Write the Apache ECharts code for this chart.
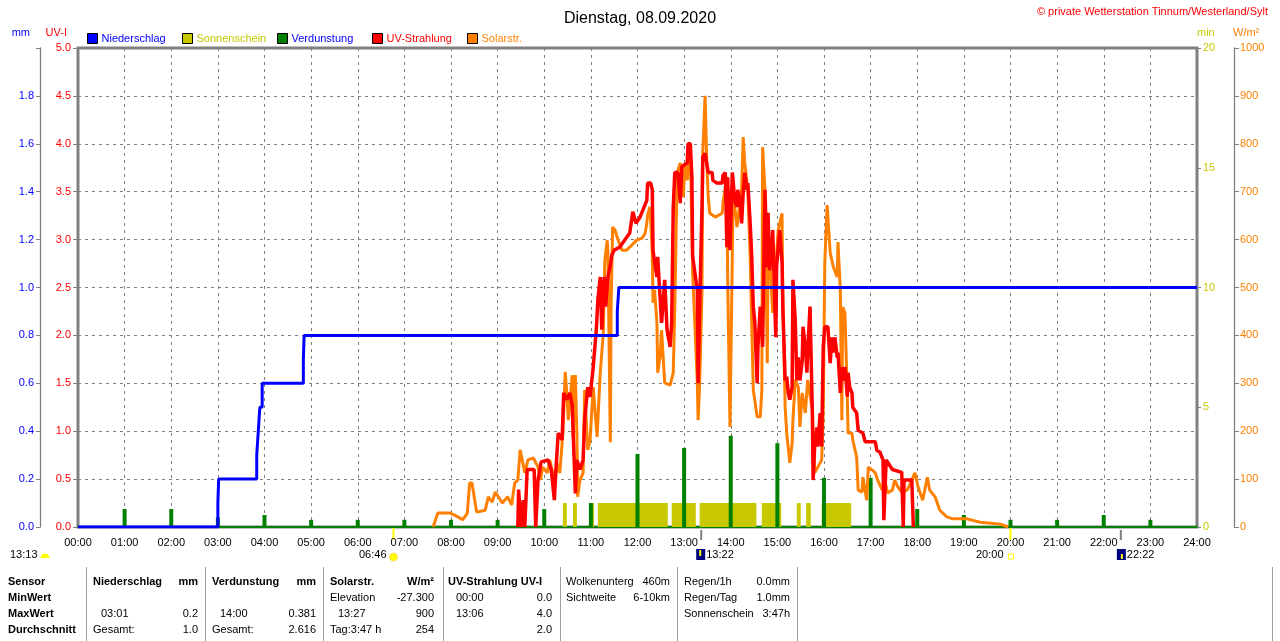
<!DOCTYPE html>
<html>
<head>
<meta charset="utf-8">
<script src="https://cdn.jsdelivr.net/npm/echarts@6/dist/echarts.min.js"></script>
<style>
  html, body { margin: 0; padding: 0; background: #fff; }
  #chart-container { width: 1280px; height: 641px; }
</style>
</head>
<body>
<div id="chart-container"></div>
<script>
const FONT = '"Liberation Sans", Arial, sans-serif'
const BLUE = "#0000ff"
const RED = "#ff0000"
const ORANGE = "#ff8000"
const GREEN = "#008000"
const SUN = "#c8c800"
const GRAY = "#808080"

// ---- data (times as HH:MM) ----
const rainTime = ["00:00", "03:00", "03:01", "03:50", "03:52", "03:54", "03:57", "04:50", "04:51", "11:34", "11:36", "24:00"]
const rainSum = [0, 0.1, 0.2, 0.3, 0.4, 0.5, 0.6, 0.7, 0.8, 0.9, 1.0, 1.0]

const evapTime = ["01:00", "02:00", "03:00", "04:00", "05:00", "06:00", "07:00", "08:00", "09:00", "10:00", "11:00", "12:00",
  "13:00", "14:00", "15:00", "16:00", "17:00", "18:00", "19:00", "20:00", "21:00", "22:00", "23:00"]
const evapVal = [0.075, 0.075, 0.04, 0.05, 0.03, 0.03, 0.03, 0.03, 0.03, 0.075, 0.10, 0.305,
  0.33, 0.381, 0.35, 0.205, 0.205, 0.075, 0.05, 0.03, 0.03, 0.05, 0.03]

const sunStart = ["10:24", "10:37", "10:59", "11:09", "12:44", "13:20", "14:40", "15:25", "15:37", "15:57"]
const sunEnd = ["10:29", "10:42", "11:04", "12:39", "13:15", "14:33", "15:05", "15:30", "15:43", "16:35"]
const sunMin = [1, 1, 1, 1, 1, 1, 1, 1, 1, 1]

const solarTime = [
  "07:37", "07:43", "07:59", "08:09", "08:15", "08:21", "08:24", "08:27", "08:33", "08:44",
  "08:48", "08:53", "08:57", "09:06", "09:13", "09:18", "09:22", "09:26", "09:29", "09:31",
  "09:35", "09:39", "09:46", "09:52", "09:55", "09:58", "10:04", "10:07", "10:14", "10:16",
  "10:20", "10:24", "10:27", "10:29", "10:31", "10:36", "10:37", "10:40", "10:42", "10:43",
  "10:46", "10:50", "10:52", "10:56", "10:59", "11:03", "11:08", "11:12", "11:16", "11:18",
  "11:21", "11:22", "11:25", "11:26", "11:28", "11:31", "11:35", "11:40", "11:46", "11:53",
  "11:59", "12:06", "12:10", "12:12", "12:13", "12:16", "12:19", "12:20", "12:22", "12:25",
  "12:26", "12:29", "12:31", "12:35", "12:42", "12:46", "12:48", "12:51", "12:55", "12:59",
  "13:01", "13:04", "13:08", "13:11", "13:17", "13:18", "13:20", "13:23", "13:24", "13:27",
  "13:29", "13:31", "13:33", "13:40", "13:49", "13:50", "13:55", "13:56", "13:59", "14:02",
  "14:03", "14:08", "14:14", "14:16", "14:18", "14:22", "14:25", "14:29", "14:34", "14:38",
  "14:40", "14:41", "14:44", "14:47", "14:48", "14:50", "14:54", "15:01", "15:06", "15:07",
  "15:10", "15:12", "15:16", "15:19", "15:20", "15:23", "15:27", "15:29", "15:32", "15:36",
  "15:39", "15:45", "15:48", "15:52", "15:57", "15:59", "16:01", "16:04", "16:06", "16:08",
  "16:12", "16:17", "16:18", "16:21", "16:23", "16:24", "16:27", "16:30", "16:31", "16:36",
  "16:37", "16:42", "16:44", "16:49", "16:50", "16:55", "16:57", "17:02", "17:06", "17:09",
  "17:15", "17:18", "17:22", "17:28", "17:31", "17:35", "17:40", "17:47", "17:53", "17:57",
  "18:01", "18:07", "18:13", "18:16", "18:23", "18:29", "18:38", "18:46", "19:04", "19:21",
  "19:47", "19:57"
]
const solarVal = [
  0, 29, 29, 21, 15, 29, 92, 92, 31, 35,
  63, 52, 73, 50, 63, 46, 92, 98, 161, 161,
  113, 140, 144, 125, 98, 125, 113, 140, 92, 134,
  113, 196, 324, 280, 223, 317, 188, 317, 196, 63,
  98, 113, 286, 161, 182, 292, 188, 321, 405, 557,
  599, 572, 177, 459, 626, 620, 599, 578, 578, 589,
  599, 603, 614, 635, 651, 668, 572, 468, 495, 426,
  322, 355, 411, 301, 296, 322, 459, 739, 760, 689,
  760, 724, 787, 530, 301, 223, 301, 495, 781, 900,
  772, 689, 655, 647, 655, 676, 731, 522, 209, 564,
  704, 626, 704, 814, 760, 704, 564, 286, 230, 230,
  286, 793, 704, 342, 585, 564, 447, 620, 655, 480,
  251, 196, 134, 175, 223, 307, 292, 209, 280, 238,
  307, 244, 113, 125, 140, 238, 551, 672, 668, 572,
  543, 522, 595, 495, 223, 459, 447, 271, 196, 196,
  182, 146, 77, 73, 104, 56, 125, 119, 113, 98,
  77, 98, 71, 77, 98, 84, 73, 77, 98, 113,
  84, 56, 104, 77, 63, 35, 21, 17, 17, 10,
  6, 0
]

const uvTime = [
  "09:26", "09:27", "09:30", "09:33", "09:35", "09:38", "09:47", "09:49", "09:52", "09:56",
  "10:05", "10:09", "10:13", "10:15", "10:18", "10:23", "10:25", "10:29", "10:33", "10:36",
  "10:40", "10:42", "10:46", "10:50", "10:52", "10:56", "10:59", "11:03", "11:07", "11:09",
  "11:12", "11:14", "11:17", "11:19", "11:22", "11:25", "11:27", "11:30", "11:37", "11:44",
  "11:50", "11:54", "11:58", "12:03", "12:07", "12:12", "12:13", "12:17", "12:19", "12:20",
  "12:22", "12:25", "12:26", "12:29", "12:31", "12:35", "12:38", "12:42", "12:44", "12:46",
  "12:48", "12:52", "12:55", "12:57", "13:04", "13:05", "13:08", "13:10", "13:11", "13:17",
  "13:18", "13:20", "13:23", "13:24", "13:27", "13:29", "13:31", "13:36", "13:37", "13:42",
  "13:49", "13:50", "13:53", "13:55", "13:56", "13:59", "14:02", "14:03", "14:05", "14:08",
  "14:09", "14:12", "14:14", "14:16", "14:18", "14:21", "14:22", "14:25", "14:27", "14:29",
  "14:31", "14:34", "14:35", "14:38", "14:40", "14:41", "14:44", "14:47", "14:48", "14:50",
  "14:53", "14:54", "14:57", "14:58", "14:59", "15:01", "15:03", "15:06", "15:07", "15:10",
  "15:12", "15:14", "15:16", "15:19", "15:20", "15:23", "15:25", "15:27", "15:29", "15:32",
  "15:33", "15:36", "15:38", "15:39", "15:42", "15:45", "15:46", "15:48", "15:51", "15:52",
  "15:55", "15:57", "15:59", "16:01", "16:05", "16:08", "16:10", "16:12", "16:14", "16:17",
  "16:18", "16:21", "16:23", "16:24", "16:27", "16:30", "16:31", "16:33", "16:36", "16:37",
  "16:42", "16:44", "16:50", "16:53", "17:06", "17:08", "17:12", "17:16", "17:17", "17:20",
  "17:28", "17:40", "17:42", "17:43", "17:53", "17:55"
]
const uvVal = [
  0, 0.39, 0, 0.28, 0, 0.60, 0.60, 0, 0.49, 0.68,
  0.70, 0.60, 0.28, 0.60, 0.98, 0.91, 1.40, 1.33, 1.40, 1.27,
  0.35, 0.70, 0.60, 0.70, 1.12, 1.46, 1.36, 1.67, 2.06, 2.37,
  2.61, 2.06, 2.61, 2.30, 2.61, 2.73, 2.84, 2.89, 2.92, 3.00,
  3.07, 3.29, 3.17, 3.23, 3.31, 3.41, 3.59, 3.59, 3.52, 2.89,
  2.76, 2.61, 2.82, 2.40, 2.13, 2.58, 2.06, 1.88, 2.13, 3.34,
  3.70, 3.70, 3.38, 3.76, 3.80, 4.00, 4.00, 3.65, 2.82, 2.47,
  1.50, 2.30, 3.34, 3.86, 3.90, 3.80, 3.70, 3.70, 3.62, 3.59,
  3.59, 3.67, 3.70, 2.92, 3.65, 2.89, 3.70, 3.62, 3.41, 3.34,
  3.52, 3.41, 3.17, 3.49, 3.70, 3.52, 3.59, 3.17, 2.82, 2.30,
  2.13, 1.50, 1.88, 2.30, 2.06, 1.88, 3.52, 2.71, 3.28, 2.68,
  2.92, 3.10, 2.23, 1.98, 2.71, 2.92, 3.10, 2.76, 2.30, 1.53,
  1.57, 1.40, 1.33, 1.46, 2.58, 2.16, 1.53, 1.77, 1.53, 1.74,
  2.09, 1.88, 1.61, 1.82, 2.30, 1.19, 0.49, 0.84, 1.04, 0.84,
  1.19, 0.84, 1.88, 2.09, 2.09, 1.71, 1.98, 1.82, 1.98, 1.77,
  1.82, 1.40, 1.67, 1.53, 1.67, 1.36, 1.61, 1.46, 1.40, 1.25,
  1.19, 1.01, 0.98, 0.89, 0.89, 0.80, 0.78, 0.70, 0.07, 0.70,
  0.60, 0.57, 0, 0.49, 0.49, 0
]

// astronomy row under the time axis
const dayLength = "13:13"
const sunrise = "06:46"
const transit = "13:22"
const sunset = "20:00"
const moonrise = "22:22"

// statistics table
const rowLabels = ["Sensor", "MinWert", "MaxWert", "Durchschnitt"]
const statCols = [
  { head: "Niederschlag", unit: "mm", rows: [["", ""], ["03:01", "0.2"], ["Gesamt:", "1.0"]] },
  { head: "Verdunstung", unit: "mm", rows: [["", ""], ["14:00", "0.381"], ["Gesamt:", "2.616"]] },
  { head: "Solarstr.", unit: "W/m²", rows: [["Elevation", "-27.300"], ["13:27", "900"], ["Tag:3:47 h", "254"]] },
  { head: "UV-Strahlung UV-I", unit: "", rows: [["00:00", "0.0"], ["13:06", "4.0"], ["", "2.0"]] }
]
const infoA = [["Wolkenunterg", "460m"], ["Sichtweite", "6-10km"]]
const infoB = [["Regen/1h", "0.0mm"], ["Regen/Tag", "1.0mm"], ["Sonnenschein", "3:47h"]]

// ---- helpers ----
const toMin = (t) => {
  const p = t.split(":")
  return +p[0] * 60 + +p[1]
}
const pad2 = (n) => String(n).padStart(2, "0")
const pairs = (times, vals) => times.map((t, i) => [toMin(t), vals[i]])

var dom = document.getElementById("chart-container")
var myChart = echarts.init(dom, null, { renderer: "canvas" })

const commonYAxis = {
  type: "value",
  nameLocation: "end",
  nameGap: 15,
  splitLine: { show: false },
  axisTick: { show: true, length: 4, lineStyle: { color: GRAY } },
  axisLine: { show: true, onZero: false, lineStyle: { color: GRAY, width: 1.3 } }
}

const legendItems = [
  ["Niederschlag", BLUE, 87],
  ["Sonnenschein", SUN, 182],
  ["Verdunstung", BLUE, 277],
  ["UV-Strahlung", RED, 372],
  ["Solarstr.", ORANGE, 467]
]

var option = {
  animation: false,
  textStyle: { fontFamily: FONT },
  title: {
    text: "Dienstag, 08.09.2020",
    left: "center",
    top: 6,
    textStyle: { fontSize: 16, fontWeight: "normal", color: "#000", fontFamily: FONT }
  },
  legend: legendItems.map(([name, color, left]) => ({
    left: left,
    top: 33,
    padding: 0,
    icon: "rect",
    itemWidth: 10,
    itemHeight: 10,
    itemStyle: { borderColor: "#000", borderWidth: 1 },
    textStyle: { color: color, fontSize: 11, fontFamily: FONT, padding: [0, 0, 0, -1] },
    data: [name]
  })),
  grid: {
    left: 78,
    right: 83,
    top: 48,
    bottom: 114,
    show: true,
    borderColor: GRAY,
    borderWidth: 3
  },
  xAxis: {
    type: "value",
    min: 0,
    max: 1440,
    interval: 60,
    axisLine: { show: true, onZero: false, lineStyle: { color: GREEN, width: 2 } },
    axisTick: { show: false },
    axisLabel: {
      color: "#000",
      fontSize: 11,
      margin: 10,
      formatter: (v) => pad2(v / 60) + ":00"
    },
    splitLine: { show: true, lineStyle: { color: GRAY, type: [3, 4], width: 1 } }
  },
  yAxis: [
    {
      ...commonYAxis,
      name: "mm",
      position: "left",
      offset: 38,
      min: 0,
      max: 2,
      interval: 0.2,
      nameTextStyle: { color: BLUE, fontSize: 11, align: "right", verticalAlign: "middle", padding: [0, 10, 0, 0] },
      axisLabel: { color: BLUE, fontSize: 11, margin: 6, formatter: (v) => (v >= 1.99 ? "" : v.toFixed(1)) }
    },
    {
      ...commonYAxis,
      name: "UV-I",
      position: "left",
      offset: 0,
      min: 0,
      max: 5,
      interval: 0.5,
      axisLine: { show: false, onZero: false },
      axisTick: { show: true, length: 5, lineStyle: { color: GRAY } },
      nameTextStyle: { color: RED, fontSize: 11, align: "right", verticalAlign: "middle", padding: [0, 11, 0, 0] },
      axisLabel: { color: RED, fontSize: 11, margin: 7, formatter: (v) => v.toFixed(1) },
      splitLine: { show: true, lineStyle: { color: GRAY, type: [3, 4], width: 1 } }
    },
    {
      ...commonYAxis,
      name: "min",
      position: "right",
      offset: 0,
      min: 0,
      max: 20,
      interval: 5,
      axisLine: { show: false, onZero: false },
      nameTextStyle: { color: SUN, fontSize: 11, align: "left", verticalAlign: "middle" },
      axisLabel: { color: SUN, fontSize: 11, margin: 6, formatter: (v) => String(v) }
    },
    {
      ...commonYAxis,
      name: "W/m²",
      position: "right",
      offset: 37,
      min: 0,
      max: 1000,
      interval: 100,
      axisTick: { show: true, length: 5, lineStyle: { color: GRAY } },
      nameTextStyle: { color: ORANGE, fontSize: 11, align: "left", verticalAlign: "middle", padding: [0, 0, 0, -1] },
      axisLabel: { color: ORANGE, fontSize: 11, margin: 6, formatter: (v) => String(v) }
    }
  ],
  series: [
    {
      name: "Sonnenschein",
      type: "custom",
      yAxisIndex: 2,
      z: 1,
      itemStyle: { color: SUN },
      encode: { x: [0, 1], y: 2 },
      data: sunStart.map((s, i) => [toMin(s), toMin(sunEnd[i]), sunMin[i]]),
      renderItem: (params, api) => {
        const p0 = api.coord([api.value(0), api.value(2)])
        const p1 = api.coord([api.value(1), 0])
        return {
          type: "rect",
          shape: { x: p0[0], y: p0[1], width: p1[0] - p0[0], height: p1[1] - p0[1] },
          style: { fill: SUN }
        }
      }
    },
    {
      name: "Verdunstung",
      type: "bar",
      yAxisIndex: 0,
      z: 2,
      barWidth: 4,
      itemStyle: { color: GREEN },
      data: pairs(evapTime, evapVal)
    },
    {
      name: "Solarstr.",
      type: "line",
      yAxisIndex: 3,
      z: 3,
      showSymbol: false,
      color: ORANGE,
      lineStyle: { color: ORANGE, width: 3 },
      data: pairs(solarTime, solarVal)
    },
    {
      name: "UV-Strahlung",
      type: "line",
      yAxisIndex: 1,
      z: 4,
      showSymbol: false,
      color: RED,
      lineStyle: { color: RED, width: 3.5 },
      data: pairs(uvTime, uvVal)
    },
    {
      name: "Niederschlag",
      type: "line",
      yAxisIndex: 0,
      z: 5,
      step: "end",
      showSymbol: false,
      color: BLUE,
      lineStyle: { color: BLUE, width: 3 },
      data: pairs(rainTime, rainSum)
    }
  ]
}

myChart.setOption(option)

/**
 * ============ annotations: astronomy row + statistics table =============
 */
const txt = (x, y, text, opts = {}) => ({
  type: "text",
  x: x,
  y: y,
  silent: true,
  style: {
    text: text,
    fill: opts.color || "#000",
    font: (opts.bold ? "bold " : "") + (opts.size || 11) + "px " + FONT,
    align: opts.align || "left",
    verticalAlign: "middle"
  }
})
const vline = (x, y1, y2, color, width) => ({
  type: "line",
  silent: true,
  shape: { x1: x, y1: y1, x2: x, y2: y2 },
  style: { stroke: color, lineWidth: width }
})
const xPix = (t) => myChart.convertToPixel({ xAxisIndex: 0 }, toMin(t))

const g = []
g.push(txt(1268, 12, "© private Wetterstation Tinnum/Westerland/Sylt", { color: RED, align: "right" }))

const axisY = 527
const astroY = 555
// day length on the far left
g.push(txt(10, astroY, dayLength))
g.push({ type: "sector", silent: true, shape: { cx: 45, cy: astroY + 3, r: 4.5, startAngle: Math.PI, endAngle: 2 * Math.PI }, style: { fill: "#ffff00" } })
// sunrise
const xr = xPix(sunrise)
g.push(vline(xr, axisY, axisY + 13, "#ffff00", 2))
g.push(txt(xr - 7, astroY, sunrise, { align: "right" }))
g.push({ type: "circle", silent: true, shape: { cx: xr, cy: astroY + 2, r: 4 }, style: { fill: "#ffff00", stroke: "#ffe060", lineWidth: 1 } })
// transit
const xt = xPix(transit)
g.push(vline(xt, axisY + 3, axisY + 13, GRAY, 2))
g.push({ type: "rect", silent: true, shape: { x: xt - 5, y: astroY - 6, width: 9, height: 11 }, style: { fill: "#000080" } })
g.push(vline(xt - 1, astroY - 5, astroY + 1, "#ffff00", 2))
g.push(txt(xt + 5, astroY, transit))
// sunset
const xs = xPix(sunset)
g.push(vline(xs, axisY, axisY + 13, "#ffff00", 2))
g.push(txt(xs - 7, astroY, sunset, { align: "right" }))
g.push({ type: "rect", silent: true, shape: { x: xs - 2, y: astroY - 1, width: 5, height: 5 }, style: { fill: "none", stroke: "#ffff00", lineWidth: 1 } })
// moonrise
const xm = xPix(moonrise)
g.push(vline(xm, axisY + 3, axisY + 13, GRAY, 2))
g.push({ type: "rect", silent: true, shape: { x: xm - 4, y: astroY - 6, width: 9, height: 11 }, style: { fill: "#000080" } })
g.push(vline(xm + 1, astroY - 1, astroY + 4, "#ffff00", 2))
g.push(txt(xm + 6, astroY, moonrise))

// table
const rowY = [582, 598, 614, 630]
const sepX = [86, 205, 323, 443, 560, 677, 797, 1272]
const colLeft = [93, 212, 330, 448]
const colRight = [198, 316, 434, 552]
sepX.forEach((x) => g.push(vline(x + 0.5, 567, 641, "#a0a0a0", 1)))
rowLabels.forEach((l, i) => g.push(txt(8, rowY[i], l, { bold: true })))
statCols.forEach((c, ci) => {
  g.push(txt(colLeft[ci], rowY[0], c.head, { bold: true }))
  if (c.unit) g.push(txt(colRight[ci], rowY[0], c.unit, { bold: true, align: "right" }))
  c.rows.forEach(([a, b], ri) => {
    const indent = /^\d\d:\d\d$/.test(a) ? 8 : 0
    if (a) g.push(txt(colLeft[ci] + indent, rowY[ri + 1], a))
    if (b) g.push(txt(colRight[ci], rowY[ri + 1], b, { align: "right" }))
  })
})
infoA.forEach(([a, b], i) => {
  g.push(txt(566, rowY[i], a))
  g.push(txt(670, rowY[i], b, { align: "right" }))
})
infoB.forEach(([a, b], i) => {
  g.push(txt(684, rowY[i], a))
  g.push(txt(790, rowY[i], b, { align: "right" }))
})

myChart.setOption({ graphic: g })

window.addEventListener("resize", myChart.resize)
</script>
</body>
</html>
